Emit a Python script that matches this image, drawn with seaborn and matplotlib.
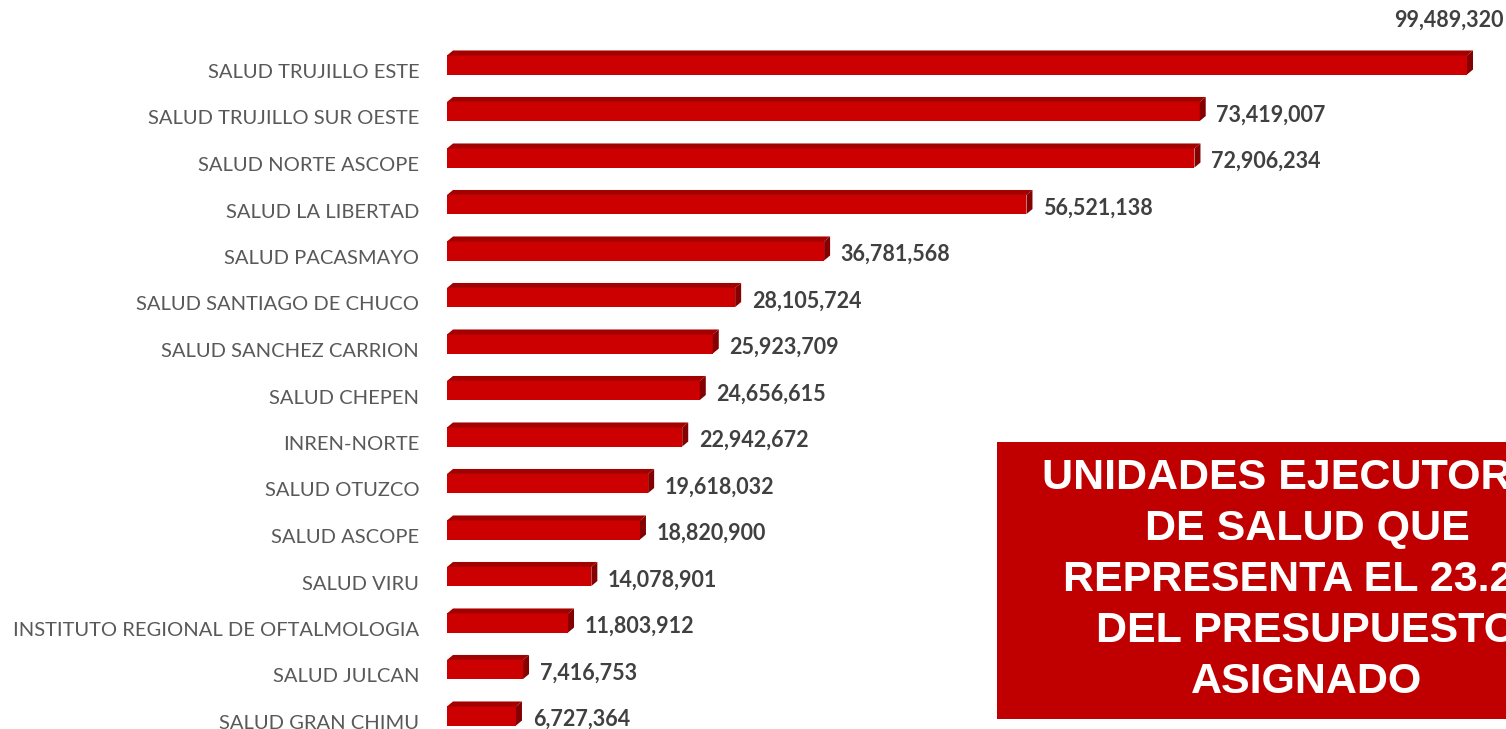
import matplotlib
matplotlib.use("Agg")
import matplotlib.pyplot as plt
import matplotlib.transforms as mtransforms
import seaborn as sns
import pandas as pd
from matplotlib.patches import Polygon, Rectangle

# unidades ejecutoras y presupuesto
unidades = [
    "SALUD TRUJILLO ESTE",
    "SALUD TRUJILLO SUR OESTE",
    "SALUD NORTE ASCOPE",
    "SALUD LA LIBERTAD",
    "SALUD PACASMAYO",
    "SALUD SANTIAGO DE CHUCO",
    "SALUD SANCHEZ CARRION",
    "SALUD CHEPEN",
    "INREN-NORTE",
    "SALUD OTUZCO",
    "SALUD ASCOPE",
    "SALUD VIRU",
    "INSTITUTO REGIONAL DE OFTALMOLOGIA",
    "SALUD JULCAN",
    "SALUD GRAN CHIMU",
]
presupuesto = [99489320, 73419007, 72906234, 56521138, 36781568, 28105724,
               25923709, 24656615, 22942672, 19618032, 18820900, 14078901,
               11803912, 7416753, 6727364]
recuadro = "UNIDADES EJECUTORAS\nDE SALUD QUE\nREPRESENTA EL 23.2%\nDEL PRESUPUESTO\nASIGNADO"

df = pd.DataFrame({"unidad": unidades, "monto": presupuesto})

W, H = 1506, 729
fig = plt.figure(figsize=(W / 100, H / 100), dpi=100)
ax = fig.add_axes([447 / W, 0, 1 - 447 / W, 1])

sns.barplot(data=df, x="monto", y="unidad", orient="h", color="#CC0000",
            saturation=1, width=0.41, ax=ax, zorder=2)

xmax = 1059 / 1020 * presupuesto[0]
ax.set_xlim(0, xmax)
ax.set_ylim(14 + 13 / 46.5, -65 / 46.5)

# efecto 3D: cara superior y lateral
dx = 6 * xmax / 1059
dy = 5 / 46.5
for p in ax.patches[:len(unidades)]:
    x0, y0 = p.get_x(), p.get_y()
    x1, y1 = x0 + p.get_width(), y0 + p.get_height()
    top = Polygon([(x0, y0), (x1, y0), (x1 + dx, y0 - dy), (x0 + dx, y0 - dy)],
                  closed=True, facecolor="#A30000", edgecolor="none", zorder=3)
    side = Polygon([(x1, y0), (x1 + dx, y0 - dy), (x1 + dx, y1 - dy), (x1, y1)],
                   closed=True, facecolor="#850000", edgecolor="none", zorder=3)
    ax.add_patch(top)
    ax.add_patch(side)

# etiquetas de valores
for i, v in enumerate(presupuesto):
    txt = f"{v:,}"
    if i == 0:
        ax.annotate(txt, (v, i), xytext=(-13, 32), textcoords="offset points",
                    ha="center", va="center", fontsize=15.5, fontweight="bold",
                    color="#404040", family="Lato")
    else:
        ax.annotate(txt, (v, i), xytext=(12, -2.5), textcoords="offset points",
                    ha="left", va="center", fontsize=15.5, fontweight="bold",
                    color="#404040", family="Lato")

ax.set_xlabel("")
ax.set_ylabel("")
ax.set_xticks([])
for s in ax.spines.values():
    s.set_visible(False)
ax.tick_params(axis="y", length=0, pad=20, labelsize=14.5, labelcolor="#595959")
shift = mtransforms.ScaledTranslation(0, -6 / 100, fig.dpi_scale_trans)
for lab in ax.get_yticklabels():
    lab.set_family("Lato")
    lab.set_transform(lab.get_transform() + shift)

# recuadro rojo
fig.patches.append(Rectangle((997 / W, 1 - 719 / H), 1, (719 - 442) / H,
                             transform=fig.transFigure, facecolor="#C00000",
                             edgecolor="none", zorder=5))
fig.text(1307 / W, 1 - 580 / H, recuadro, ha="center", va="center",
         multialignment="center", color="white", fontsize=31, fontweight="bold",
         family="Liberation Sans", linespacing=1.36, zorder=6)

fig.savefig("out.png", dpi=100)
